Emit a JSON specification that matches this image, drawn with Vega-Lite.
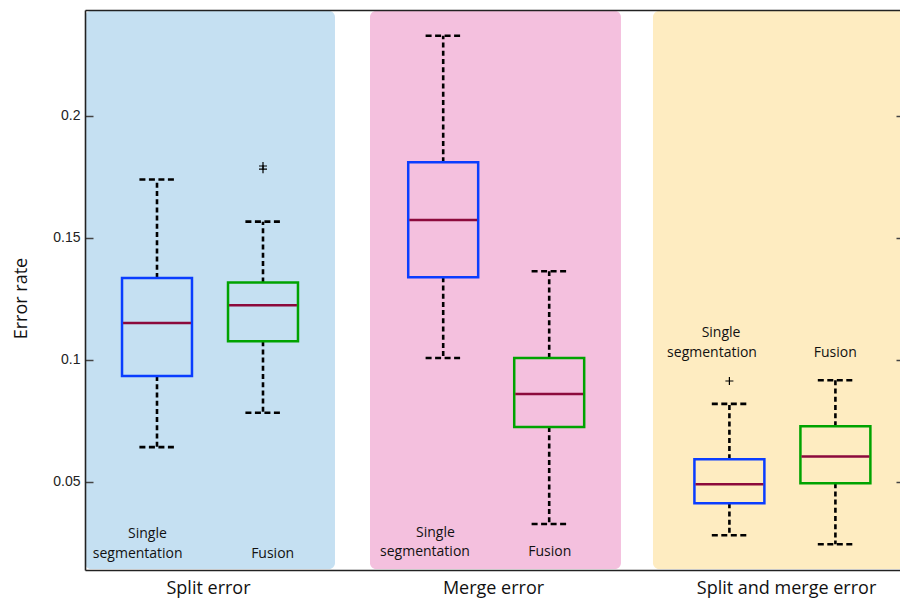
{
  "$schema": "https://vega.github.io/schema/vega-lite/v6.json",
  "width": 815,
  "height": 560,
  "autosize": {"type": "none"},
  "padding": {"left": 85, "top": 10, "right": 0, "bottom": 31},
  "background": "white",
  "config": {"view": {"stroke": null}},
  "datasets": {
    "regions": [
      {"group": "Split error", "start": 0.32075, "end": 2.679},
      {"group": "Merge error", "start": 3.0094, "end": 5.377},
      {"group": "Split and merge error", "start": 5.679, "end": 8.2}
    ],
    "boxes": [
      {"group": "Split error", "method": "Single segmentation", "pos": 1.0, "lo": 0.0643, "q1": 0.0934, "med": 0.1152, "q3": 0.1336, "hi": 0.1740},
      {"group": "Split error", "method": "Fusion", "pos": 2.0, "lo": 0.0784, "q1": 0.1077, "med": 0.1224, "q3": 0.1318, "hi": 0.1567},
      {"group": "Merge error", "method": "Single segmentation", "pos": 3.7, "lo": 0.1008, "q1": 0.1339, "med": 0.1574, "q3": 0.1810, "hi": 0.2329},
      {"group": "Merge error", "method": "Fusion", "pos": 4.7, "lo": 0.0328, "q1": 0.0725, "med": 0.0861, "q3": 0.1008, "hi": 0.1364},
      {"group": "Split and merge error", "method": "Single segmentation", "pos": 6.4, "lo": 0.0282, "q1": 0.0413, "med": 0.0491, "q3": 0.0593, "hi": 0.0820},
      {"group": "Split and merge error", "method": "Fusion", "pos": 7.4, "lo": 0.0245, "q1": 0.0495, "med": 0.0605, "q3": 0.0728, "hi": 0.0917}
    ],
    "outliers": [
      {"group": "Split error", "method": "Fusion", "pos": 2.0, "value": 0.1795},
      {"group": "Split error", "method": "Fusion", "pos": 2.0, "value": 0.1782},
      {"group": "Split and merge error", "method": "Single segmentation", "pos": 6.4, "value": 0.0914}
    ],
    "labels": [
      {"text": "Single", "x": 0.910, "y": 0.02725},
      {"text": "segmentation", "x": 0.818, "y": 0.01885},
      {"text": "Fusion", "x": 2.091, "y": 0.01885},
      {"text": "Single", "x": 3.627, "y": 0.02758},
      {"text": "segmentation", "x": 3.528, "y": 0.01967},
      {"text": "Fusion", "x": 4.705, "y": 0.01967},
      {"text": "Single", "x": 6.321, "y": 0.10955},
      {"text": "segmentation", "x": 6.236, "y": 0.10135},
      {"text": "Fusion", "x": 7.399, "y": 0.10135}
    ]
  },
  "layer": [
    {
      "data": {"name": "regions"},
      "mark": {"type": "rect", "cornerRadius": 6, "clip": true},
      "encoding": {
        "x": {
          "field": "start", "type": "quantitative",
          "scale": {"domain": [0.32075, 8.00943], "nice": false, "zero": false},
          "axis": {
            "orient": "bottom", "values": [1.481, 4.17, 6.934], "zindex": 1,
            "labelExpr": "datum.value < 3 ? 'Split error' : datum.value < 5.5 ? 'Merge error' : 'Split and merge error'",
            "ticks": false, "grid": false, "title": null,
            "domain": true, "domainColor": "#222", "domainWidth": 1.6,
            "labelFont": "Open Sans", "labelFontSize": 18, "labelColor": "#111",
            "labelPadding": 9, "labelOverlap": false
          }
        },
        "x2": {"field": "end"},
        "y": {
          "datum": 0.2430, "type": "quantitative",
          "scale": {"domain": [0.013934, 0.24344], "nice": false, "zero": false},
          "axis": {
            "orient": "left", "values": [0.05, 0.1, 0.15, 0.2], "zindex": 1,
            "labelExpr": "datum.value == 0.1 ? '0.1' : datum.value == 0.2 ? '0.2' : format(datum.value, '.2f')",
            "grid": false, "domain": true, "domainColor": "#222", "domainWidth": 1.6,
            "ticks": true, "tickSize": -8, "tickColor": "#444", "tickWidth": 1.5,
            "labelFont": "Liberation Sans", "labelFontSize": 14, "labelColor": "#222", "labelPadding": 13,
            "title": "Error rate", "titleFont": "Open Sans", "titleFontSize": 18, "titleFontWeight": "normal",
            "titleColor": "#111", "titlePadding": 22, "titleY": 288
          }
        },
        "y2": {"datum": 0.01434},
        "fill": {
          "field": "group", "type": "nominal",
          "scale": {"domain": ["Split error", "Merge error", "Split and merge error"], "range": ["#c5e0f2", "#f4c0de", "#feecc1"]},
          "legend": null
        }
      }
    },
    {
      "data": {"name": "boxes"},
      "mark": {"type": "rule", "color": "black", "strokeWidth": 2.6, "strokeDash": [5, 3.2]},
      "encoding": {
        "x": {"field": "pos", "type": "quantitative", "axis": null},
        "y": {"field": "q3", "type": "quantitative", "axis": null},
        "y2": {"field": "hi"}
      }
    },
    {
      "data": {"name": "boxes"},
      "mark": {"type": "rule", "color": "black", "strokeWidth": 2.6, "strokeDash": [5, 3.2]},
      "encoding": {
        "x": {"field": "pos", "type": "quantitative", "axis": null},
        "y": {"field": "q1", "type": "quantitative", "axis": null},
        "y2": {"field": "lo"}
      }
    },
    {
      "data": {"name": "boxes"},
      "transform": [
        {"fold": ["lo", "hi"], "as": ["end", "val"]},
        {"calculate": "datum.pos - 0.166", "as": "cl"},
        {"calculate": "datum.pos + 0.166", "as": "cr"}
      ],
      "mark": {"type": "rule", "color": "black", "strokeWidth": 2.6, "strokeDash": [6, 3.5]},
      "encoding": {
        "x": {"field": "cl", "type": "quantitative", "axis": null},
        "x2": {"field": "cr"},
        "y": {"field": "val", "type": "quantitative", "axis": null}
      }
    },
    {
      "data": {"name": "boxes"},
      "transform": [
        {"calculate": "datum.pos - 0.33", "as": "xl"},
        {"calculate": "datum.pos + 0.33", "as": "xr"}
      ],
      "mark": {"type": "rect", "fill": "transparent", "strokeWidth": 2.5},
      "encoding": {
        "x": {
          "field": "xl", "type": "quantitative",
          "axis": {"orient": "top", "zindex": 1, "ticks": false, "labels": false, "grid": false, "title": null, "domain": true, "domainColor": "#222", "domainWidth": 1.6}
        },
        "x2": {"field": "xr"},
        "y": {"field": "q1", "type": "quantitative", "axis": null},
        "y2": {"field": "q3"},
        "stroke": {
          "field": "method", "type": "nominal",
          "scale": {"domain": ["Single segmentation", "Fusion"], "range": ["#0a3dff", "#00a300"]},
          "legend": null
        }
      }
    },
    {
      "data": {"name": "boxes"},
      "transform": [
        {"calculate": "datum.pos - 0.32", "as": "xl"},
        {"calculate": "datum.pos + 0.32", "as": "xr"}
      ],
      "mark": {"type": "rule", "color": "#8c0a3c", "strokeWidth": 2.5},
      "encoding": {
        "x": {"field": "xl", "type": "quantitative", "axis": null},
        "x2": {"field": "xr"},
        "y": {
          "field": "med", "type": "quantitative",
          "axis": {
            "orient": "right", "zindex": 1, "values": [0.05, 0.1, 0.15, 0.2], "labels": false, "domain": false,
            "grid": false, "title": null, "ticks": true, "tickSize": -4, "tickColor": "#444", "tickWidth": 1.5
          }
        }
      }
    },
    {
      "data": {"name": "outliers"},
      "mark": {"type": "point", "shape": "M-1,0H1M0,-1V1", "size": 64, "filled": false, "stroke": "black", "strokeWidth": 1.2, "opacity": 1},
      "encoding": {
        "x": {"field": "pos", "type": "quantitative", "axis": null},
        "y": {"field": "value", "type": "quantitative", "axis": null}
      }
    },
    {
      "data": {"name": "labels"},
      "mark": {"type": "text", "font": "Open Sans", "fontSize": 14, "color": "#111", "align": "center", "baseline": "alphabetic"},
      "encoding": {
        "x": {"field": "x", "type": "quantitative", "axis": null},
        "y": {"field": "y", "type": "quantitative", "axis": null},
        "text": {"field": "text"}
      }
    }
  ],
  "resolve": {"axis": {"x": "independent", "y": "independent"}}
}
